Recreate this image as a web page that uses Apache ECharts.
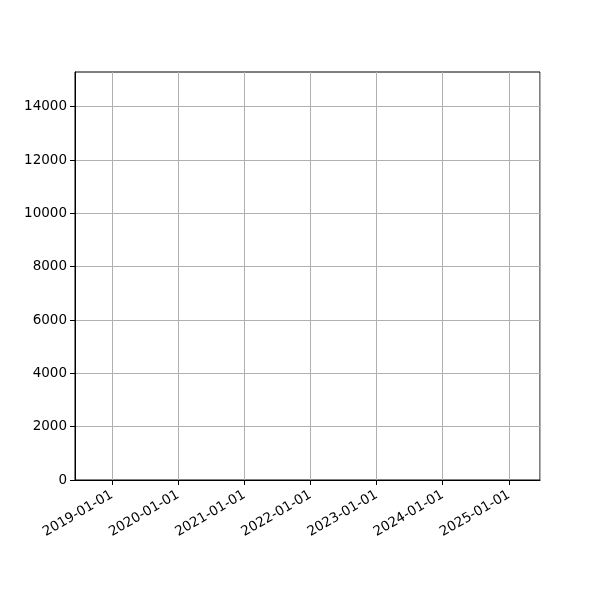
<!DOCTYPE html>
<html>
<head>
<meta charset="utf-8">
<script src="https://cdn.jsdelivr.net/npm/echarts@6/dist/echarts.min.js"></script>
<style>html,body{margin:0;padding:0;background:#fff}#c{width:600px;height:600px}</style>
</head>
<body>
<div id="c"></div>
<script>
// Data (the reference chart shows no plotted values)
const dates = [];
const values = [];
const xTickLabels = ['2019-01-01','2020-01-01','2021-01-01','2022-01-01','2023-01-01','2024-01-01','2025-01-01'];
const yTickValues = [0,2000,4000,6000,8000,10000,12000,14000];
const xRange = ['2018-06-11','2025-06-21'];
const yRange = [0,15300];

const font = 'DejaVu Sans';
const YEAR = 365*24*3600*1000;
const chart = echarts.init(document.getElementById('c'), null, {renderer:'canvas'});
chart.setOption({
  animation:false,
  backgroundColor:'#fff',
  grid:{left:75,right:60,top:72,bottom:120,show:true,borderColor:'#000',borderWidth:1,backgroundColor:'transparent'},
  xAxis:{
    type:'time',
    min:new Date(xRange[0]+'T00:00:00').getTime(),
    max:new Date(xRange[1]+'T00:00:00').getTime(),
    minInterval:YEAR, maxInterval:YEAR,
    axisLine:{show:true,lineStyle:{color:'#000',width:1}},
    axisTick:{show:true,length:5,inside:false,lineStyle:{color:'#000'}},
    axisLabel:{rotate:30,margin:14,color:'#000',fontFamily:font,fontSize:13.5,showMinLabel:false,showMaxLabel:false,hideOverlap:false,
      formatter:v=>{const s=echarts.time.format(v,'{yyyy}-{MM}-{dd}',false);return xTickLabels.indexOf(s)>=0?s:'';}},
    splitLine:{show:true,lineStyle:{color:'#b0b0b0',width:1}}
  },
  yAxis:{
    type:'value',
    min:yRange[0],max:yRange[1],interval:2000,
    axisLine:{show:true,lineStyle:{color:'#000',width:1}},
    axisTick:{show:true,length:5,lineStyle:{color:'#000'},customValues:yTickValues},
    axisLabel:{color:'#000',fontFamily:font,fontSize:13.5,margin:8,customValues:yTickValues,
      formatter:v=>String(v)},
    splitLine:{show:true,lineStyle:{color:'#b0b0b0',width:1}}
  },
  series:[{type:'line',data:dates.map((d,i)=>[d,values[i]]),showSymbol:false,lineStyle:{color:'#1f77b4'}}]
});
</script>
</body>
</html>
